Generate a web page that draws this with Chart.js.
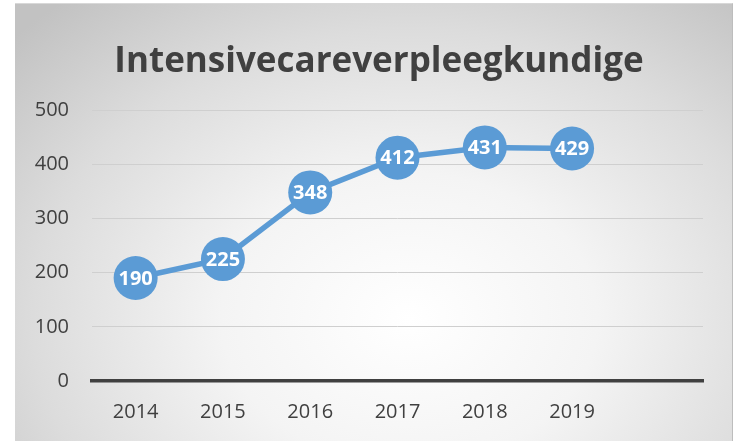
<!DOCTYPE html>
<html>
<head>
<meta charset="utf-8">
<script src="https://cdn.jsdelivr.net/npm/chart.js@4/dist/chart.umd.min.js"></script>
<style>
  html, body { margin: 0; padding: 0; background: #ffffff; }
  #wrap { position: relative; width: 737px; height: 441px; }
  #bg { position: absolute; left: 15px; top: 3px; width: 718px; height: 438px;
        background: radial-gradient(ellipse 75% 95% at 55% 72%, #ffffff 0%, #f4f4f4 35%, #dcdcdc 70%, #c2c2c2 100%);
        border-top: 1px solid #d8d8d8; border-right: 1px solid #bdbdbd; box-sizing: border-box; }
  canvas { position: absolute; left: 0; top: 0; }
</style>
</head>
<body>
<div id="wrap">
  <div id="bg"></div>
  <canvas id="c" width="737" height="441"></canvas>
</div>
<script>
const categories = ['2014', '2015', '2016', '2017', '2018', '2019', ''];
const values = [190, 225, 348, 412, 431, 429, null];
const titleText = 'Intensivecareverpleegkundige';

const FONT = "'Open Sans', 'Noto Sans', sans-serif";
const BLUE = '#5B9BD5';
const TEXT = '#404040';

const labelPlugin = {
  id: 'pointLabels',
  afterLayout(chart) {
    // shift the title block so it is centred like the reference
    if (chart.titleBlock) {
      chart.titleBlock.left = 55;
      chart.titleBlock.right = 703;
    }
  },
  afterDatasetsDraw(chart) {
    const ctx = chart.ctx;
    const meta = chart.getDatasetMeta(0);
    ctx.save();
    ctx.fillStyle = '#ffffff';
    ctx.font = "bold 20px " + FONT;
    ctx.textAlign = 'center';
    ctx.textBaseline = 'middle';
    meta.data.forEach((pt, i) => {
      const v = values[i];
      if (v == null) return;
      ctx.fillText(String(v), pt.x, pt.y + 1);
    });
    ctx.restore();
  }
};

new Chart(document.getElementById('c'), {
  type: 'line',
  data: {
    labels: categories,
    datasets: [{
      data: values,
      borderColor: BLUE,
      backgroundColor: BLUE,
      borderWidth: 5.5,
      pointRadius: 22,
      pointHoverRadius: 22,
      pointBackgroundColor: BLUE,
      pointBorderColor: BLUE,
      pointBorderWidth: 0,
      tension: 0,
      fill: false
    }]
  },
  options: {
    responsive: false,
    animation: false,
    devicePixelRatio: 1,
    layout: { padding: { left: 15, right: 34, top: 0, bottom: 0 } },
    plugins: {
      legend: { display: false },
      tooltip: { enabled: false },
      title: {
        display: true,
        text: titleText,
        color: TEXT,
        font: { family: FONT, size: 35, weight: 'bold', lineHeight: 1.2 },
        padding: { top: 41, bottom: 27 }
      }
    },
    scales: {
      x: {
        offset: true,
        grid: { display: false, drawTicks: false },
        border: { display: true, color: TEXT, width: 3.5 },
        ticks: { color: TEXT, font: { family: FONT, size: 20 }, padding: 19, maxRotation: 0 },
        afterFit(s) { s.height = 60; }
      },
      y: {
        min: 0, max: 500,
        grid: { color: '#cfcfcf', lineWidth: 1, drawTicks: false },
        border: { display: false },
        ticks: { stepSize: 100, color: TEXT, font: { family: FONT, size: 20 }, padding: 23 },
        afterFit(s) { s.width = 77; }
      }
    }
  },
  plugins: [labelPlugin]
});
</script>
</body>
</html>
